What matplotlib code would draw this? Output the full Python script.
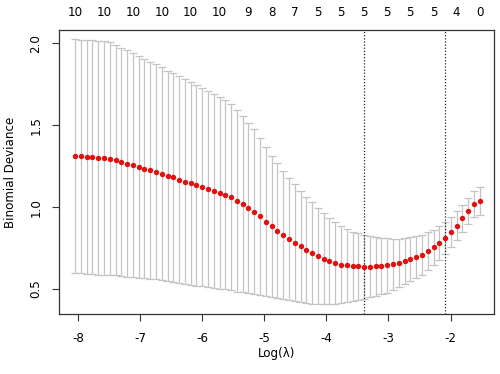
import matplotlib
matplotlib.use("Agg")
import matplotlib.pyplot as plt
import matplotlib.transforms as mtransforms
import numpy as np

log_lambda = [-8.048, -7.955, -7.862, -7.769, -7.675, -7.582, -7.489, -7.396, -7.303, -7.210,
              -7.117, -7.024, -6.930, -6.837, -6.744, -6.651, -6.558, -6.465, -6.372, -6.279,
              -6.185, -6.092, -5.999, -5.906, -5.813, -5.720, -5.627, -5.534, -5.440, -5.347,
              -5.254, -5.161, -5.068, -4.975, -4.882, -4.789, -4.695, -4.602, -4.509, -4.416,
              -4.323, -4.230, -4.137, -4.043, -3.950, -3.857, -3.764, -3.671, -3.578, -3.485,
              -3.392, -3.298, -3.205, -3.112, -3.019, -2.926, -2.833, -2.740, -2.647, -2.553,
              -2.460, -2.367, -2.274, -2.181, -2.088, -1.995, -1.902, -1.808, -1.715, -1.622,
              -1.529]

cvm = [1.313, 1.311, 1.307, 1.305, 1.302, 1.301, 1.296, 1.287, 1.276, 1.266,
       1.256, 1.246, 1.235, 1.226, 1.215, 1.205, 1.191, 1.181, 1.168, 1.156,
       1.146, 1.134, 1.122, 1.110, 1.098, 1.087, 1.077, 1.061, 1.038, 1.018,
       0.994, 0.973, 0.943, 0.912, 0.883, 0.856, 0.831, 0.805, 0.782, 0.760,
       0.740, 0.720, 0.699, 0.685, 0.670, 0.659, 0.650, 0.644, 0.640, 0.638,
       0.636, 0.637, 0.639, 0.641, 0.645, 0.651, 0.659, 0.671, 0.685, 0.697,
       0.711, 0.732, 0.754, 0.782, 0.813, 0.848, 0.887, 0.933, 0.977, 1.019,
       1.037]

cvsd = [0.712, 0.712, 0.713, 0.713, 0.713, 0.713, 0.709, 0.703, 0.697, 0.691,
        0.684, 0.677, 0.669, 0.662, 0.656, 0.649, 0.642, 0.638, 0.631, 0.625,
        0.620, 0.613, 0.606, 0.599, 0.592, 0.585, 0.578, 0.566, 0.553, 0.537,
        0.520, 0.502, 0.479, 0.454, 0.432, 0.411, 0.392, 0.374, 0.357, 0.340,
        0.323, 0.309, 0.293, 0.278, 0.263, 0.248, 0.234, 0.220, 0.210, 0.202,
        0.195, 0.188, 0.180, 0.173, 0.166, 0.157, 0.149, 0.141, 0.134, 0.128,
        0.122, 0.115, 0.109, 0.102, 0.098, 0.091, 0.087, 0.083, 0.080, 0.082,
        0.087]

label_idx = [0, 5, 10, 15, 20, 25, 30, 34, 38, 42, 46, 50, 54, 58, 62, 66, 70]
nzero_labels = ["10", "10", "10", "10", "10", "10", "9", "8", "7", "5", "5", "5", "5", "5", "5", "4", "0"]

idx_min = 50
idx_1se = 64

xticks = [-8, -7, -6, -5, -4, -3, -2]
yticks = [0.5, 1.0, 1.5, 2.0]
ytick_labels = ["0.5", "1.0", "1.5", "2.0"]

plt.rcParams['font.family'] = ['DejaVu Sans']

x = np.array(log_lambda)
m = np.array(cvm)
s = np.array(cvsd)
up = m + s
lo = m - s

fig = plt.figure(figsize=(5.0, 3.74), dpi=100)
ax = fig.add_axes([59/500, 1 - 314/374, (494 - 59)/500, (314 - 30)/374])

barcol = "#c4c4c4"
barw = 0.01 * (x.max() - x.min())
ax.vlines(x, lo, up, color=barcol, lw=0.9, zorder=1)
ax.hlines(up, x - barw, x + barw, color=barcol, lw=0.9, zorder=1)
ax.hlines(lo, x - barw, x + barw, color=barcol, lw=0.9, zorder=1)

ax.plot(x, m, 'o', color='#e31010', markersize=3.9, markeredgewidth=0, zorder=3)

ax.axvline(x[idx_min], color='#222222', ls=(0, (1, 1.5)), lw=0.9, zorder=2)
ax.axvline(x[idx_1se], color='#222222', ls=(0, (1, 1.5)), lw=0.9, zorder=2)

ax.set_xlim(-8.306, -1.30)
ax.set_ylim(0.348, 2.081)

ax.set_xticks(xticks)
ax.set_xticklabels([str(t) for t in xticks])
ax.set_yticks(yticks)
ax.set_yticklabels(ytick_labels, rotation=90, va='center')

for sp in ax.spines.values():
    sp.set_color('#333333')
    sp.set_linewidth(0.9)

ax.tick_params(axis='both', direction='out', length=5, width=0.8, color='#333333',
               labelsize=8.6, labelcolor='black')
ax.tick_params(axis='x', pad=8)
ax.tick_params(axis='y', pad=7)

trans = mtransforms.blended_transform_factory(ax.transData, fig.transFigure)
for i, lab in zip(label_idx, nzero_labels):
    ax.text(x[i], 1 - 12/374, lab, transform=trans, ha='center', va='center', fontsize=8.6,
            clip_on=False)

fig.text(0.5 * (59 + 494) / 500, 1 - 353/374, "Log(λ)", ha='center', va='center', fontsize=8.6)
fig.text(11/500, 1 - (30 + 314) / 2 / 374, "Binomial Deviance", ha='center', va='center',
         rotation=90, fontsize=8.6)

fig.savefig("out.png", dpi=100)
